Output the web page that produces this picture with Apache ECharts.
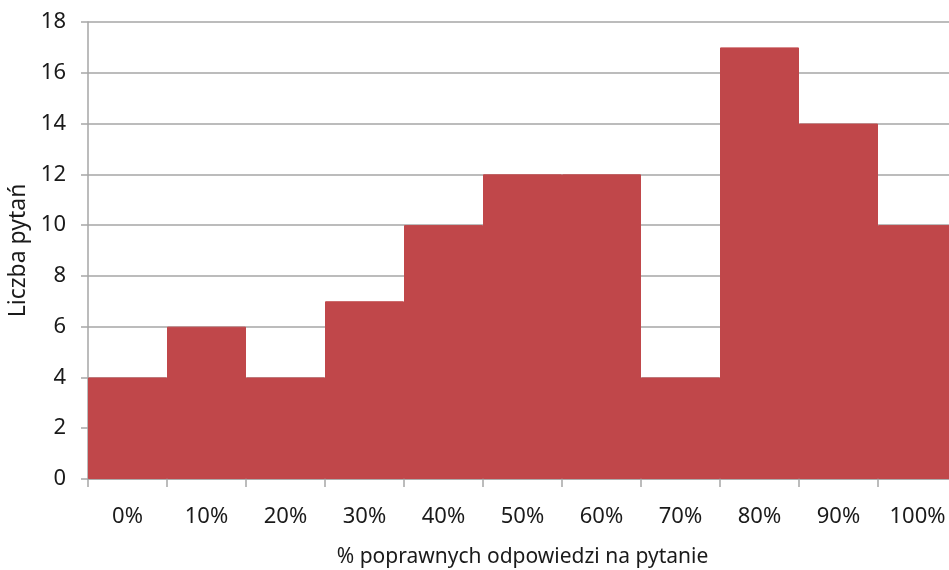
<!DOCTYPE html>
<html>
<head>
<meta charset="utf-8">
<script src="https://cdn.jsdelivr.net/npm/echarts@6/dist/echarts.min.js"></script>
<style>
  html, body { margin: 0; padding: 0; background: #fff; }
  #chart { width: 949px; height: 570px; }
</style>
</head>
<body>
<div id="chart"></div>
<script>
const categories = ['0%', '10%', '20%', '30%', '40%', '50%', '60%', '70%', '80%', '90%', '100%'];
const counts = [4, 6, 4, 7, 10, 12, 12, 4, 17, 14, 10];
const yTicks = [0, 2, 4, 6, 8, 10, 12, 14, 16, 18];

const font = '"Noto Sans", sans-serif';
const barColor = '#C0474A';
const lineColor = '#a6a6a6';
const textColor = '#1a1a1a';

const chart = echarts.init(document.getElementById('chart'));

chart.setOption({
  animation: false,
  grid: {
    left: 88,
    right: -8,
    top: 22,
    bottom: 91,
    outerBoundsMode: 'none'
  },
  xAxis: {
    type: 'category',
    data: categories,
    name: '% poprawnych odpowiedzi na pytanie',
    nameLocation: 'middle',
    nameGap: 68,
    nameTextStyle: { fontFamily: font, fontSize: 21, color: textColor },
    axisLine: { lineStyle: { color: lineColor, width: 1.5 } },
    axisTick: { show: true, length: 8, lineStyle: { color: lineColor, width: 1.5 } },
    axisLabel: { fontFamily: font, fontSize: 22, color: textColor, margin: 27 }
  },
  yAxis: {
    type: 'value',
    min: yTicks[0],
    max: yTicks[yTicks.length - 1],
    interval: 2,
    name: 'Liczba pytań',
    nameLocation: 'middle',
    nameGap: 52,
    nameTextStyle: { fontFamily: font, fontSize: 23, color: textColor },
    axisLine: { show: true, lineStyle: { color: lineColor, width: 1.5 } },
    axisTick: { show: true, length: 7, lineStyle: { color: lineColor, width: 1.5 } },
    axisLabel: { fontFamily: font, fontSize: 22, color: textColor, margin: 22 },
    splitLine: { lineStyle: { color: lineColor, width: 1.5 } }
  },
  series: [{
    type: 'bar',
    data: counts,
    barCategoryGap: '0%',
    itemStyle: { color: barColor, borderColor: barColor, borderWidth: 1 }
  }]
});
</script>
</body>
</html>
